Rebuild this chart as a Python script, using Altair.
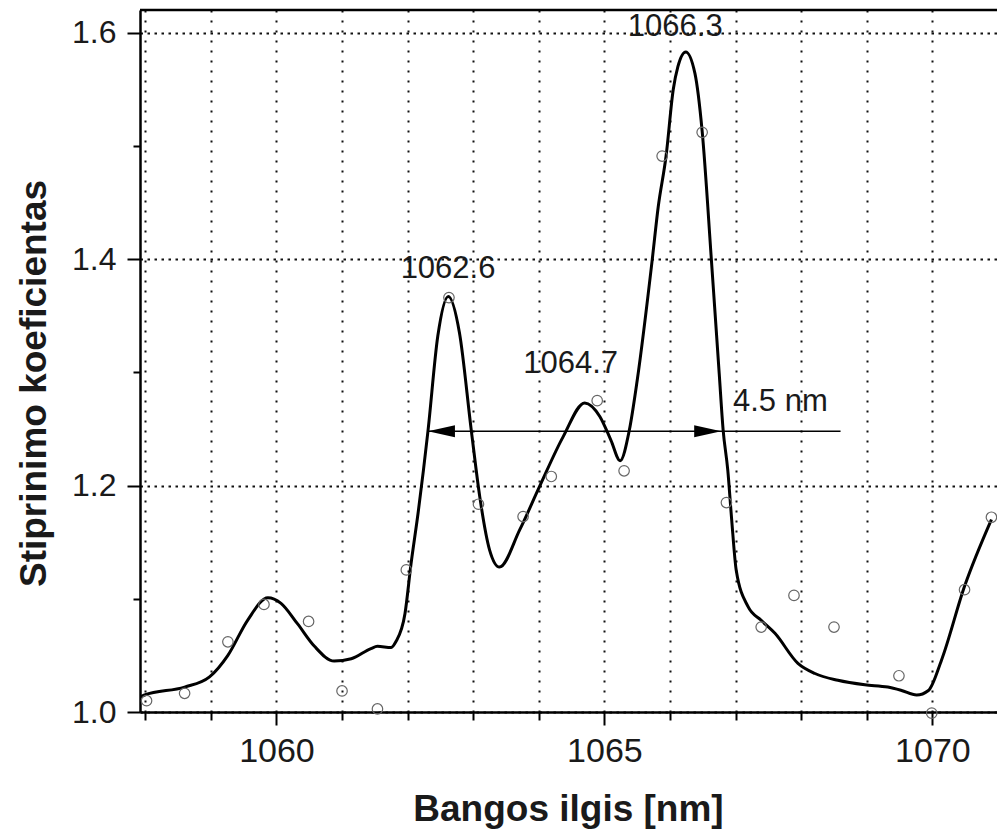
import altair as alt
import pandas as pd

# ---- data ----
CURVE_X = [1057.92, 1057.99, 1058.60, 1058.98, 1059.26, 1059.56, 1059.87, 1060.07, 1060.32,
           1060.58, 1060.88, 1061.14, 1061.44, 1061.54, 1061.75, 1061.82, 1061.96, 1062.05,
           1062.16, 1062.31, 1062.46, 1062.62, 1062.79, 1062.97, 1063.10, 1063.25, 1063.40,
           1063.71, 1064.01, 1064.37, 1064.70, 1064.93, 1065.10, 1065.24, 1065.38, 1065.50,
           1065.73, 1065.82, 1065.94, 1066.05, 1066.12, 1066.24, 1066.38, 1066.49, 1066.63,
           1066.68, 1066.75, 1066.81, 1066.88, 1066.94, 1067.01, 1067.19, 1067.39, 1067.60,
           1067.95, 1068.21, 1068.56, 1068.97, 1069.32, 1069.53, 1069.76, 1069.94, 1070.14,
           1070.49, 1070.90]
CURVE_Y = [1.013, 1.015, 1.022, 1.031, 1.050, 1.081, 1.101, 1.096, 1.078,
           1.058, 1.045, 1.047, 1.056, 1.058, 1.057, 1.062, 1.087, 1.130,
           1.176, 1.248, 1.332, 1.367, 1.335, 1.249, 1.190, 1.143, 1.128,
           1.161, 1.199, 1.243, 1.273, 1.261, 1.240, 1.222, 1.249, 1.293,
           1.400, 1.446, 1.491, 1.550, 1.570, 1.583, 1.564, 1.513, 1.400,
           1.358, 1.299, 1.249, 1.214, 1.170, 1.125, 1.093, 1.081, 1.0695,
           1.043, 1.034, 1.028, 1.024, 1.022, 1.019, 1.015, 1.019, 1.046,
           1.111, 1.170]

PTS_X = [1058.02, 1058.60, 1059.26, 1059.81, 1060.49, 1061.00, 1061.54, 1061.98,
         1062.63, 1063.08, 1063.76, 1064.19, 1064.89, 1065.30, 1065.88, 1066.49,
         1066.86, 1067.39, 1067.89, 1068.50, 1069.49, 1069.99, 1070.49, 1070.90]
PTS_Y = [1.010, 1.0165, 1.062, 1.095, 1.080, 1.0186, 1.0027, 1.1255,
         1.366, 1.1835, 1.1726, 1.208, 1.275, 1.213, 1.491, 1.512,
         1.185, 1.075, 1.103, 1.075, 1.032, 0.999, 1.108, 1.172]

X_TICKS = list(range(1058, 1071))
Y_TICKS = [1.0, 1.1, 1.2, 1.3, 1.4, 1.5, 1.6]
X_DOMAIN = [1057.92, 1070.985]
Y_DOMAIN = [1.0, 1.62]

PEAK_LABELS = ["1062.6", "1064.7", "1066.3"]
PEAK_LABEL_X = [1062.616, 1064.486, 1066.08]
PEAK_LABEL_Y = [1.3835, 1.2995, 1.5967]

FWHM_LABEL = ["4.5 nm"]
FWHM_LABEL_X = [1066.96]
FWHM_LABEL_Y = [1.2654]

ARROW_Y = 1.248
ARROW_LINE_X = [1062.31, 1068.60]
ARROW_TIP_LEFT = 1062.31
ARROW_TIP_RIGHT = 1066.78

X_TITLE = "Bangos ilgis [nm]"
Y_TITLE = "Stiprinimo koeficientas"

FONT = "Liberation Sans"

# ---- tables ----
curve = pd.DataFrame({"x": CURVE_X, "y": CURVE_Y})
pts = pd.DataFrame({"x": PTS_X, "y": PTS_Y})
peaks = pd.DataFrame({"x": PEAK_LABEL_X, "y": PEAK_LABEL_Y, "t": PEAK_LABELS})
fwhm = pd.DataFrame({"x": FWHM_LABEL_X, "y": FWHM_LABEL_Y, "t": FWHM_LABEL})
arrow_line = pd.DataFrame({"x": [ARROW_LINE_X[0]], "x2": [ARROW_LINE_X[1]], "y": [ARROW_Y]})
arrow_left = pd.DataFrame({"x": [ARROW_TIP_LEFT], "y": [ARROW_Y]})
arrow_right = pd.DataFrame({"x": [ARROW_TIP_RIGHT], "y": [ARROW_Y]})
top = pd.DataFrame({"y": [Y_DOMAIN[1]]})

xs = alt.Scale(domain=X_DOMAIN, nice=False, zero=False)
ys = alt.Scale(domain=Y_DOMAIN, nice=False, zero=False)

x_axis = alt.Axis(
    values=X_TICKS,
    format="d",
    labelExpr="datum.value % 5 == 0 ? datum.label : ''",
    tickSize={"condition": {"test": "datum.value % 5 == 0", "value": 13}, "value": 8},
    tickWidth=2, tickColor="black",
    domainWidth=2.5, domainColor="black",
    grid=True, gridDash=[2, 8], gridColor="#111111", gridWidth=2,
    labelFont=FONT, labelFontSize=34, labelColor="#1a1a1a", labelPadding=9,
    labelFlush=False, labelOverlap=False,
    title=X_TITLE, titleFont=FONT, titleFontSize=37, titleFontWeight="bold",
    titleColor="#1a1a1a", titleX=428, titleY=108, titleBaseline="alphabetic",
    titleAlign="center", titleAnchor="middle",
)
y_axis = alt.Axis(
    values=Y_TICKS,
    labelExpr="round(datum.value * 10) % 2 == 0 ? format(datum.value, '.1f') : ''",
    tickSize={"condition": {"test": "round(datum.value * 10) % 2 == 0", "value": 13}, "value": 7},
    tickWidth=2, tickColor="black",
    domainWidth=2.5, domainColor="black",
    grid=True, gridDash=[2.5, 4.5], gridColor="#111111", gridWidth=2,
    gridOpacity={"condition": {"test": "round(datum.value * 10) % 2 == 0", "value": 1}, "value": 0},
    labelFont=FONT, labelFontSize=32, labelColor="#1a1a1a", labelPadding=11,
    labelFlush=False, labelOverlap=False,
    title=Y_TITLE, titleFont=FONT, titleFontSize=37, titleFontWeight="bold",
    titleColor="#1a1a1a", titleX=-95, titleY=373, titleAngle=270,
    titleBaseline="alphabetic", titleAlign="center", titleAnchor="middle",
)

X = alt.X("x:Q", scale=xs, axis=x_axis)
Y = alt.Y("y:Q", scale=ys, axis=y_axis)

line = alt.Chart(curve).mark_line(color="black", strokeWidth=3, interpolate="monotone", clip=True).encode(
    x=X, y=Y,
)

points = alt.Chart(pts).mark_point(shape="circle", filled=False, color="#666666",
                                   strokeWidth=1.2, size=110, opacity=1).encode(
    x=X, y=Y,
)

peak_text = alt.Chart(peaks).mark_text(font=FONT, fontSize=31, color="#1a1a1a",
                                       align="center", baseline="alphabetic").encode(
    x=X, y=Y, text="t:N",
)

fwhm_text = alt.Chart(fwhm).mark_text(font=FONT, fontSize=31, color="#1a1a1a",
                                      align="left", baseline="alphabetic").encode(
    x=X, y=Y, text="t:N",
)

arr_line = alt.Chart(arrow_line).mark_rule(color="black", strokeWidth=1.5).encode(
    x=X, x2="x2:Q", y=Y,
)

arr_left = alt.Chart(arrow_left).mark_point(
    shape="M0,0 L2,-0.45 L2,0.45 Z", filled=True, color="black", size=729, opacity=1
).encode(x=X, y=Y)

arr_right = alt.Chart(arrow_right).mark_point(
    shape="M0,0 L-2,-0.45 L-2,0.45 Z", filled=True, color="black", size=729, opacity=1
).encode(x=X, y=Y)

top_border = alt.Chart(top).mark_rule(color="black", strokeWidth=2.5).encode(y=Y)

chart = alt.layer(
    line, points, arr_line, arr_left, arr_right, peak_text, fwhm_text, top_border
).properties(
    width=857, height=702,
    autosize=alt.AutoSizeParams(type="none"),
    padding={"left": 140, "top": 10, "right": 0, "bottom": 125},
    background="white",
).configure_view(stroke=None)

chart.save("out.html", embed_options={"renderer": "svg", "actions": False})
